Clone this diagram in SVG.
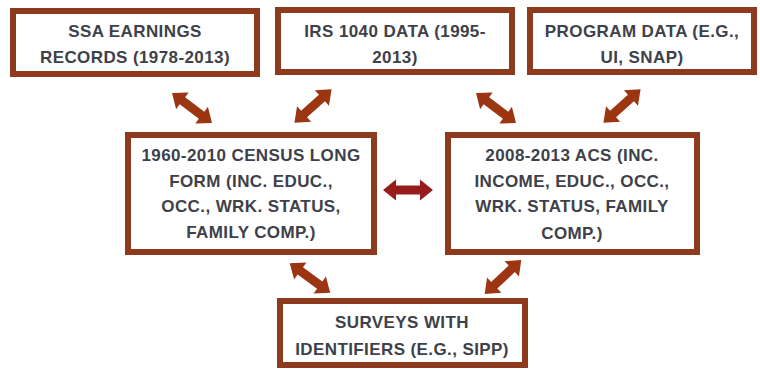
<svg xmlns="http://www.w3.org/2000/svg" width="760" height="370" viewBox="0 0 760 370">
<style>
.box{fill:#fff;stroke:#8e3a1f;stroke-width:6}
.t{font-family:"Liberation Sans",Arial,sans-serif;font-weight:bold;font-size:17px;letter-spacing:0.4px;fill:#3e4149;text-anchor:middle}
.arr{fill:#9c3512}
.arrh{fill:#981c1c}
</style>
<defs>
<path id="dbl" d="M -25 0 L -12 -10.5 L -12 -4.5 L 12 -4.5 L 12 -10.5 L 25 0 L 12 10.5 L 12 4.5 L -12 4.5 L -12 10.5 Z"/>
</defs>
<rect width="760" height="370" fill="#fff"/>
<g id="connectors">
<use href="#dbl" class="arr" transform="translate(192,108) rotate(37)"/>
<use href="#dbl" class="arr" transform="translate(313,106) rotate(-42)"/>
<use href="#dbl" class="arr" transform="translate(496,108) rotate(37)"/>
<use href="#dbl" class="arr" transform="translate(622,106) rotate(-42)"/>
<use href="#dbl" class="arr" transform="translate(310,278) rotate(36)"/>
<use href="#dbl" class="arr" transform="translate(503,277) rotate(-43)"/>
<use href="#dbl" class="arrh" transform="translate(408,190)"/>
</g>
<g id="ssa">
<rect class="box" x="13" y="11" width="244" height="63"/>
<text class="t" x="135" y="37">SSA EARNINGS</text>
<text class="t" x="135" y="63">RECORDS (1978-2013)</text>
</g>
<g id="irs">
<rect class="box" x="278" y="10" width="234" height="62"/>
<text class="t" x="395" y="37">IRS 1040 DATA (1995-</text>
<text class="t" x="395" y="63">2013)</text>
</g>
<g id="program">
<rect class="box" x="530" y="10" width="224" height="62"/>
<text class="t" x="642" y="37">PROGRAM DATA (E.G.,</text>
<text class="t" x="642" y="63">UI, SNAP)</text>
</g>
<g id="census">
<rect class="box" x="128" y="135" width="246" height="117"/>
<text class="t" x="251" y="161">1960-2010 CENSUS LONG</text>
<text class="t" x="251" y="187">FORM (INC. EDUC.,</text>
<text class="t" x="251" y="212">OCC., WRK. STATUS,</text>
<text class="t" x="251" y="238">FAMILY COMP.)</text>
</g>
<g id="acs">
<rect class="box" x="448" y="135" width="249" height="117"/>
<text class="t" x="572" y="161">2008-2013 ACS (INC.</text>
<text class="t" x="572" y="187">INCOME, EDUC., OCC.,</text>
<text class="t" x="572" y="212">WRK. STATUS, FAMILY</text>
<text class="t" x="572" y="239">COMP.)</text>
</g>
<g id="surveys">
<rect class="box" x="280" y="301" width="245" height="64"/>
<text class="t" x="402" y="328">SURVEYS WITH</text>
<text class="t" x="402" y="355">IDENTIFIERS (E.G., SIPP)</text>
</g>
</svg>
